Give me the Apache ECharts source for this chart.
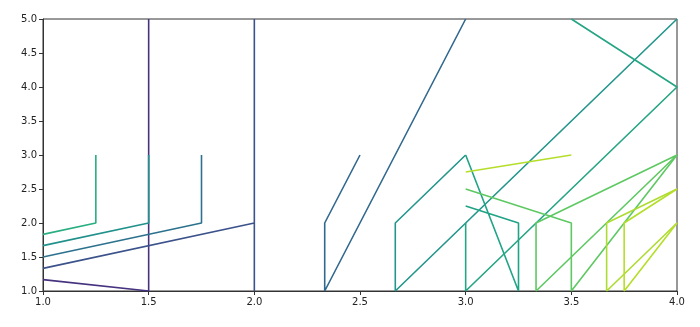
<!DOCTYPE html>
<html>
<head>
<meta charset="utf-8">
<script src="https://cdn.jsdelivr.net/npm/echarts@6/dist/echarts.min.js"></script>
<style>
html,body{margin:0;padding:0;background:#fff;}
#chart{width:700px;height:327px;}
</style>
</head>
<body>
<div id="chart"></div>
<script>
// Axis ticks
const xTicks = [1.0, 1.5, 2.0, 2.5, 3.0, 3.5, 4.0];
const yTicks = [1.0, 1.5, 2.0, 2.5, 3.0, 3.5, 4.0, 4.5, 5.0];

// Polylines, [x, y] pairs
const line1 = [[1.0, 1.167], [1.5, 1.0], [1.5, 5.0]];
const line2 = [[1.0, 1.333], [2.0, 2.0], [2.0, 1.0], [2.0, 5.0]];
const line3 = [[1.0, 1.5], [1.75, 2.0], [1.75, 3.0]];
const line4 = [[1.0, 1.667], [1.5, 2.0], [1.5, 3.0]];
const line5 = [[1.0, 1.833], [1.25, 2.0], [1.25, 3.0]];
const line6 = [[2.5, 3.0], [2.333, 2.0], [2.333, 1.0], [3.0, 5.0]];
const line7 = [[4.0, 5.0], [2.667, 1.0], [2.667, 2.0], [3.0, 3.0]];
const line8 = [[3.0, 3.0], [3.25, 1.0], [3.25, 2.0], [3.0, 2.25]];
const line9 = [[3.0, 2.0], [3.0, 1.0], [4.0, 4.0], [3.5, 5.0]];
const line10 = [[3.0, 2.5], [3.5, 2.0], [3.5, 1.0], [4.0, 3.0]];
const line11 = [[4.0, 3.0], [3.333, 1.0], [3.333, 2.0], [4.0, 3.0]];
const line12 = [[3.0, 2.75], [3.5, 3.0]];
const line13 = [[4.0, 2.5], [3.667, 2.0], [3.667, 1.0], [4.0, 2.0]];
const line14 = [[4.0, 2.5], [3.75, 2.0], [3.75, 1.0], [4.0, 2.0]];

const lines = [line1, line2, line3, line4, line5, line6, line7, line8, line9, line10, line11, line12, line13, line14];
const colors = ['#46327e', '#3b528b', '#2c728e', '#21918c', '#28ae80', '#31688e', '#23968b', '#20a386', '#25a584',
                '#5ec962', '#5ec962', '#b5de2b', '#addc30', '#b5de2b'];

const chart = echarts.init(document.getElementById('chart'), null, {renderer: 'canvas'});
const font = {fontFamily: 'DejaVu Sans', fontSize: 10, color: '#222'};
chart.setOption({
  animation: false,
  grid: {left: 43, right: 23, top: 19, bottom: 36, show: true, borderColor: '#333', borderWidth: 1, backgroundColor: 'transparent'},
  xAxis: {
    type: 'value', min: xTicks[0], max: xTicks[xTicks.length - 1], interval: 0.5,
    axisLine: {show: true, lineStyle: {color: '#333', width: 1}},
    axisTick: {show: true, length: 4, lineStyle: {color: '#333'}},
    splitLine: {show: false},
    axisLabel: Object.assign({margin: 6, formatter: v => v.toFixed(1)}, font)
  },
  yAxis: {
    type: 'value', min: yTicks[0], max: yTicks[yTicks.length - 1], interval: 0.5,
    axisLine: {show: true, lineStyle: {color: '#333', width: 1}},
    axisTick: {show: true, length: 4, lineStyle: {color: '#333'}},
    splitLine: {show: false},
    axisLabel: Object.assign({margin: 6, formatter: v => v.toFixed(1)}, font)
  },
  series: lines.map((d, i) => ({
    type: 'line', data: d, showSymbol: false, symbol: 'none', clip: true,
    lineStyle: {color: colors[i], width: 1.6}, itemStyle: {color: colors[i]}
  }))
});
</script>
</body>
</html>
